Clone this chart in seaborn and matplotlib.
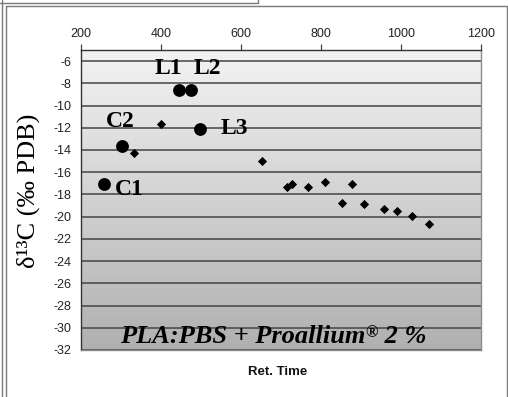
import numpy as np
import seaborn as sns
import matplotlib.pyplot as plt
from matplotlib.colors import LinearSegmentedColormap
from matplotlib.lines import Line2D

# | Data |-------------------------------------------------------------------------------------------------------------|
sample_labels = ["C1", "C2", "L1", "L2", "L3"]
sample_time = [257, 303, 445, 475, 497]
sample_d13c = [-17.1, -13.6, -8.6, -8.6, -12.1]

peak_time = [332, 400, 652, 714, 727, 767, 810, 853, 877, 908, 958, 989, 1027, 1071]
peak_d13c = [-14.3, -11.7, -15.0, -17.3, -17.1, -17.3, -16.9, -18.8, -17.1, -18.9, -19.3, -19.5, -19.9, -20.7]

x_ticks = [200, 400, 600, 800, 1000, 1200]
y_ticks = list(range(-32, -5, 2))
# label offsets in pixels from each big dot
label_offsets = [(26, -5), (-2, 24), (-11, 21), (16, 21), (35, 0)]
# |--------------------------------------------------------------------------------------------------------------------|

sns.set_style("white")
plt.rcParams["font.family"] = ["Liberation Sans", "DejaVu Sans"]
plt.rcParams["text.color"] = "black"
plt.rcParams["axes.unicode_minus"] = False

W, H = 508, 397
fig = plt.figure(figsize=(W / 100, H / 100), dpi=100)
ax = fig.add_axes([81 / W, 1 - 350 / H, 400 / W, 300 / H])

# background gradient
cmap = LinearSegmentedColormap.from_list("bg", ["#b0b0b0", "#f3f3f3"])
ax.imshow(np.linspace(0, 1, 256)[:, None], extent=[200, 1200, -32, -5], origin="lower",
          aspect="auto", cmap=cmap, zorder=0)

sns.scatterplot(x=peak_time, y=peak_d13c, ax=ax, marker="D", s=22, color="black",
                edgecolor="black", linewidth=0, zorder=3)
sns.scatterplot(x=sample_time, y=sample_d13c, ax=ax, marker="o", s=85, color="black",
                edgecolor="black", linewidth=0, zorder=3)

for lab, x, y, off in zip(sample_labels, sample_time, sample_d13c, label_offsets):
    ax.annotate(lab, (x, y), xytext=off, textcoords="offset pixels", ha="center", va="center",
                fontsize=17, fontweight="bold", family="Liberation Serif", color="black", zorder=4)

# caption, built from three pieces so the ® sits raised
cap = dict(family="Liberation Serif", fontweight="bold", style="italic", color="black", zorder=4)
t1 = ax.text(297, -31.85, "PLA:PBS + Proallium", ha="left", va="bottom", fontsize=19, **cap)
t2 = ax.annotate("®", xy=(1, 1), xycoords=t1, ha="left", va="top", fontsize=12, **cap)
ax.annotate(" 2 %", xy=(1, 0), xycoords=(t2, t1), ha="left", va="bottom", fontsize=19, **cap)

ax.set_xlim(200, 1200)
ax.set_ylim(-32, -5)
ax.set_xticks(x_ticks)
ax.set_yticks(y_ticks)
ax.xaxis.tick_top()
ax.tick_params(direction="out", length=4, width=0.8, color="#333333", labelsize=9, pad=3,
               labelcolor="#222222")
ax.grid(axis="y", color="#444444", linewidth=1.1, zorder=1)
for sp in ax.spines.values():
    sp.set_color("#8c8c8c")
    sp.set_linewidth(1.0)
ax.spines["left"].set_color("#333333")
ax.spines["top"].set_color("#333333")

fig.text(28 / W, 1 - 191 / H, "δ¹³C (‰ PDB)", rotation=90, ha="center", va="center",
         fontsize=19, family="Liberation Serif", color="black")
fig.text(278 / W, 1 - 372 / H, "Ret. Time", ha="center", va="center", fontsize=9.5,
         fontweight="bold", color="#111111")

# window frame lines
def pline(xs, ys, c="#7a7a7a", lw=1.0):
    fig.add_artist(Line2D([v / W for v in xs], [1 - v / H for v in ys], color=c, lw=lw,
                          transform=fig.transFigure))

pline([0, 258, 258], [3, 3, 0])
pline([1.5, 1.5], [0, H])
pline([6, 6, 507], [H, 6, 6])
pline([507, 507], [6, H])

fig.savefig("out.png", dpi=100)
